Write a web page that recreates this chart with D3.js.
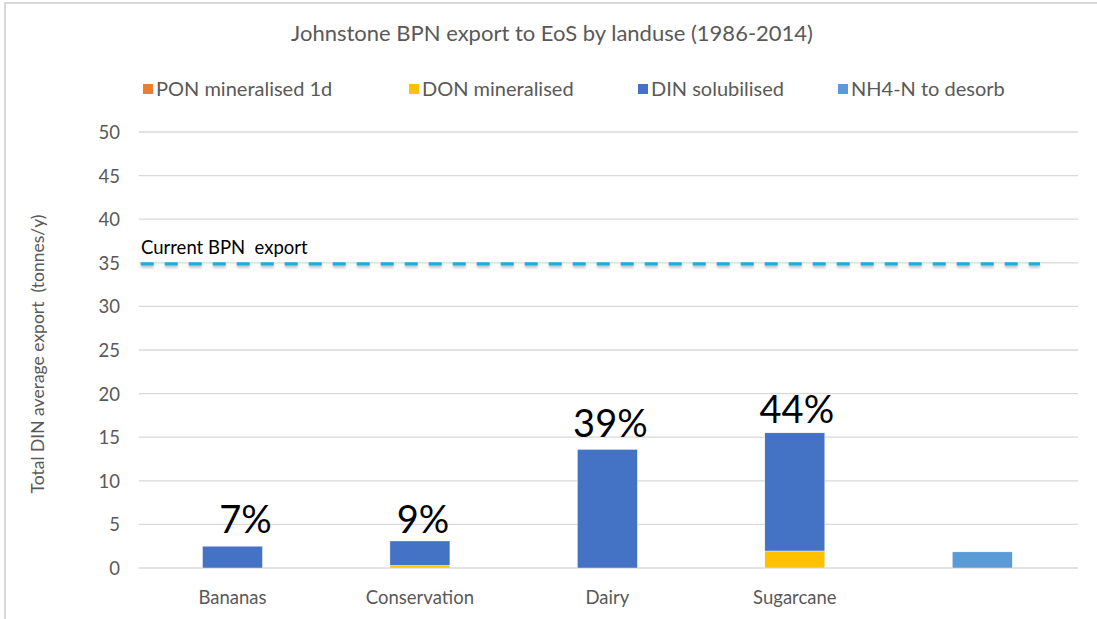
<!DOCTYPE html>
<html>
<head>
<meta charset="utf-8">
<script src="https://cdn.jsdelivr.net/npm/d3@7"></script>
<style>
  html, body { margin: 0; padding: 0; background: #fff; overflow: hidden; }
  svg { display: block; }
  text { font-family: Lato, "Open Sans", sans-serif; white-space: pre; }
</style>
</head>
<body>
<svg id="chart" width="1097" height="619"></svg>
<script>
// ---- data ----
const categories = ["Bananas", "Conservation", "Dairy", "Sugarcane", ""];
const seriesNames = ["PON mineralised 1d", "DON mineralised", "DIN solubilised", "NH4-N to desorb"];
const seriesColors = ["#ED7D31", "#FFC000", "#4472C4", "#5B9BD5"];
const ponMineralised = [0, 0, 0, 0, 0];
const donMineralised = [0, 0.3, 0, 1.95, 0];
const dinSolubilised = [2.5, 2.8, 13.6, 13.55, 0];
const nh4Desorb = [0, 0, 0, 0, 1.85];
const percentLabels = ["7%", "9%", "39%", "44%", ""];
const yTicks = [0, 5, 10, 15, 20, 25, 30, 35, 40, 45, 50];
const currentExport = 35;
const currentExportLabel = "Current BPN  export";
const title = "Johnstone BPN export to EoS by landuse (1986-2014)";
const yTitle = "Total DIN average export  (tonnes/y)";

(function () {
// ---- layout ----
const svg = d3.select("#chart");
const pLeft = 138.75, pRight = 1076, pTop = 132, pBottom = 568;

// chart border (only left and top edges visible)
svg.append("path").attr("d", "M5,619 L5,3 L1097,3")
  .attr("fill", "none").attr("stroke", "#d9d9d9").attr("stroke-width", 2);

const x = d3.scaleBand().domain(categories.map((c, i) => i)).range([pLeft, pRight]).paddingInner(0.68).paddingOuter(0.34);
const y = d3.scaleLinear().domain([0, 50]).range([pBottom, pTop]);

// gridlines
svg.append("g").selectAll("line").data(yTicks).join("line")
  .attr("x1", pLeft).attr("x2", 1078)
  .attr("y1", d => y(d)).attr("y2", d => y(d))
  .attr("stroke", "#d9d9d9").attr("stroke-width", 1.3);

// y axis labels
const yAxis = d3.axisLeft(y).tickValues(yTicks).tickSize(0).tickPadding(0);
const gy = svg.append("g").attr("transform", `translate(120,0)`).call(yAxis);
gy.select(".domain").remove();
gy.selectAll("text").attr("fill", "#595959").attr("font-size", 18.5).attr("dy", "0.35em")
  .style("font-family", "Lato, sans-serif");

// y title
svg.append("text").attr("transform", `translate(44,${(pTop + pBottom) / 2 + 4}) rotate(-90)`)
  .attr("text-anchor", "middle").attr("fill", "#595959").attr("font-size", 17.5).text(yTitle);

// stacked bars
const rows = categories.map((c, i) => ({
  idx: i, don: donMineralised[i], pon: ponMineralised[i], din: dinSolubilised[i], nh4: nh4Desorb[i]
}));
const stack = d3.stack().keys(["don", "pon", "din", "nh4"]);
const stacked = stack(rows);
const keyColor = { don: seriesColors[1], pon: seriesColors[0], din: seriesColors[2], nh4: seriesColors[3] };
svg.append("g").selectAll("g").data(stacked).join("g")
  .attr("fill", s => keyColor[s.key])
  .selectAll("rect").data(s => s.filter(d => d[1] - d[0] > 0)).join("rect")
  .attr("x", d => x(d.data.idx)).attr("width", x.bandwidth())
  .attr("y", d => y(d[1])).attr("height", d => y(d[0]) - y(d[1]))
  .attr("stroke", "#fff").attr("stroke-width", 0.4);

// category labels
svg.append("g").selectAll("text").data(categories).join("text")
  .attr("x", (d, i) => x(i) + x.bandwidth() / 2).attr("y", 604)
  .attr("text-anchor", "middle").attr("fill", "#595959").attr("font-size", 18.5).text(d => d);

// percent labels
const pctOffset = [13, 3, 3, 2, 0];
const pctGap = [13, 8, 12, 10, 0];
svg.append("g").selectAll("text").data(percentLabels).join("text")
  .attr("x", (d, i) => x(i) + x.bandwidth() / 2 + pctOffset[i])
  .attr("y", (d, i) => y(donMineralised[i] + dinSolubilised[i] + ponMineralised[i] + nh4Desorb[i]) - pctGap[i])
  .attr("text-anchor", "middle").attr("fill", "#000").attr("font-size", 38).text(d => d);

// current export dashed line with soft shadow
const ly = y(currentExport) + 1;
const defs = svg.append("defs");
defs.append("filter").attr("id", "blur").attr("filterUnits", "userSpaceOnUse")
  .attr("x", 0).attr("y", ly - 10).attr("width", 1097).attr("height", 20)
  .append("feGaussianBlur").attr("stdDeviation", 1.3);
svg.append("line").attr("x1", pLeft + 2).attr("x2", 1040)
  .attr("y1", ly + 2.5).attr("y2", ly + 2.5)
  .attr("stroke", "#000").attr("stroke-opacity", 0.22).attr("stroke-width", 3.5).attr("stroke-dasharray", "13,11")
  .attr("filter", "url(#blur)");
svg.append("line").attr("x1", pLeft + 2).attr("x2", 1040)
  .attr("y1", ly).attr("y2", ly)
  .attr("stroke", "#1CADE4").attr("stroke-width", 3.2).attr("stroke-dasharray", "13,11");
svg.append("text").attr("x", 141).attr("y", y(currentExport) - 9)
  .attr("fill", "#000").attr("font-size", 18.5).text(currentExportLabel);

// title
svg.append("text").attr("x", 552).attr("y", 41).attr("text-anchor", "middle")
  .attr("fill", "#595959").attr("font-size", 22).text(title);

// legend
const legendX = [143, 409, 638, 838];
const lg = svg.append("g").selectAll("g").data(seriesNames).join("g")
  .attr("transform", (d, i) => `translate(${legendX[i]},89)`);
lg.append("rect").attr("x", 0).attr("y", -5).attr("width", 10).attr("height", 10)
  .attr("fill", (d, i) => seriesColors[i]);
lg.append("text").attr("x", 13).attr("y", 0).attr("dy", "0.35em")
  .attr("fill", "#595959").attr("font-size", 20).text(d => d);
})();
</script>
</body>
</html>
